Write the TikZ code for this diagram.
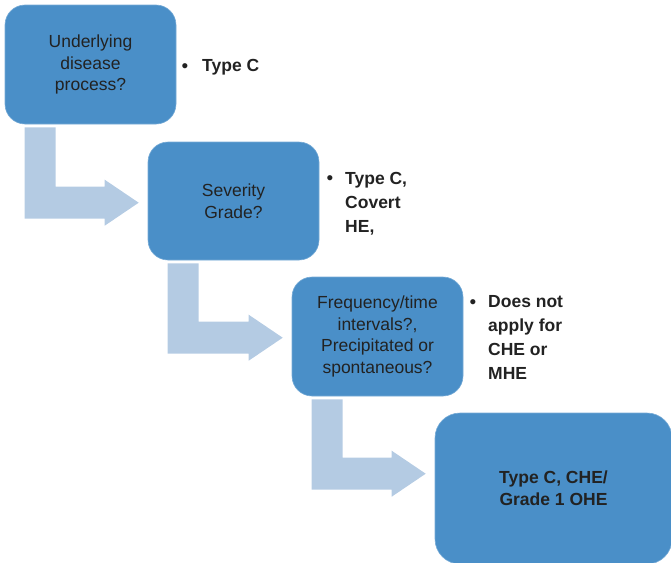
\documentclass[tikz,border=0pt]{standalone}
\usepackage{fontspec}
\setmainfont{Liberation Sans}
\usetikzlibrary{calc}
\definecolor{boxblue}{HTML}{4A8FC8}
\definecolor{arrowblue}{HTML}{B4CBE3}
\definecolor{txt}{HTML}{222222}
\newcommand\barrowdraw[2]{%
  \coordinate (s) at ($(#1.south west)+(20,3)$);
  \coordinate (s2) at ($(s)+(31,0)$);
  \coordinate (t) at ($(#2.north west)+(-9,61)$);
  \coordinate (tb) at ($(t)+(0,16)$);
  \coordinate (tt) at ($(t)+(0,-16)$);
  \fill[arrowblue] (s) -- (s |- tb) -- ($(t)+(-34,16)$) -- ($(t)+(-34,23)$) -- (t)
    -- ($(t)+(-34,-23)$) -- ($(t)+(-34,-16)$) -- (s2 |- tt) -- (s2) -- cycle;}
\tikzset{
  stepbox/.style={fill=boxblue, draw=boxblue!75!white, line width=0.6pt, rounded corners=20pt,
    inner sep=0pt, align=center, text=txt,
    font=\fontsize{17.5}{21.5}\selectfont},
  bullettext/.style={anchor=north west, inner sep=0pt, align=left, text=txt,
    font=\fontsize{17.5}{24}\selectfont\bfseries},
  bulletdot/.style={inner sep=0pt, text=txt, font=\fontsize{19}{24}\selectfont},
}
\begin{document}
\begin{tikzpicture}[x=1pt,y=-1pt]
\useasboundingbox (0,0) rectangle (671,562);
\clip (0,0) rectangle (671,562);
\node[stepbox, minimum width=171pt, minimum height=119pt] (b1) at (90.5,64.5)
  {Underlying\\disease\\process?};
\node[stepbox, minimum width=171pt, minimum height=118pt] (b2) at (233.5,201)
  {Severity\\Grade?};
\node[stepbox, minimum width=171pt, minimum height=119pt] (b3) at (377.5,336.5)
  {Frequency/time\\intervals?,\\Precipitated or\\spontaneous?};
\node[stepbox, rounded corners=25pt, minimum width=237pt, minimum height=151pt,
  font=\fontsize{17.5}{22}\selectfont\bfseries] (b4) at (553.5,488.5)
  {Type C, CHE/\\Grade 1 OHE};
\barrowdraw{b1}{b2}
\barrowdraw{b2}{b3}
\barrowdraw{b3}{b4}
\node[bulletdot] (d1) at (185,68) {•};
\node[bullettext] (t1) at (202,59.5) {Type C};
\node[bulletdot] (d2) at (330,180) {•};
\node[bullettext] (t2) at (345,171.6) {Type C,\\Covert\\HE,};
\node[bulletdot] (d3) at (473,304) {•};
\node[bullettext] (t3) at (488,295.6) {Does not\\apply for\\CHE or\\MHE};
\end{tikzpicture}
\end{document}
